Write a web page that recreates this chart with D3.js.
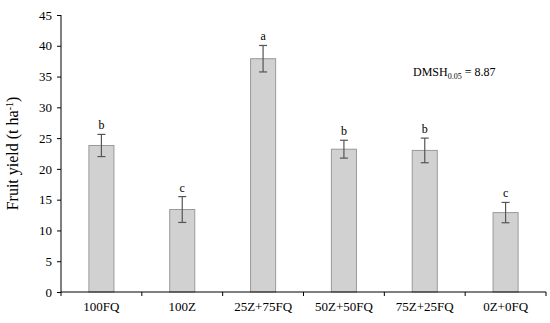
<!DOCTYPE html>
<html>
<head>
<meta charset="utf-8">
<script src="https://cdn.jsdelivr.net/npm/d3@7"></script>
<style>
  body { margin: 0; background: #fff; }
  svg text { font-family: "Times New Roman", "Liberation Serif", serif; fill: #000; }
</style>
</head>
<body>
<svg id="chart"></svg>
<script>
// Data
const treatments = ["100FQ", "100Z", "25Z+75FQ", "50Z+50FQ", "75Z+25FQ", "0Z+0FQ"];
const yieldMeans = [23.8, 13.4, 37.9, 23.2, 23.0, 12.9];
const yieldErrors = [1.8, 2.1, 2.15, 1.45, 2.0, 1.65];
const groupLetters = ["b", "c", "a", "b", "b", "c"];
const yTicks = [0, 5, 10, 15, 20, 25, 30, 35, 40, 45];

const width = 550, height = 323;
const margin = { top: 15, right: 4, bottom: 31, left: 61 };
const innerW = width - margin.left - margin.right;
const innerH = height - margin.top - margin.bottom;

const svg = d3.select('#chart')
    .attr('width', width)
    .attr('height', height);

const chart = svg.append('g')
    .attr('transform', `translate(${margin.left},${margin.top})`);

const xScale = d3.scaleBand()
    .domain(treatments)
    .range([0, innerW])
    .paddingInner(0.69)
    .paddingOuter(0.345);

const yScale = d3.scaleLinear()
    .domain([0, 45])
    .range([innerH, 0]);

// Bars
chart.selectAll('.bar')
    .data(treatments)
    .join('rect')
    .attr('class', 'bar')
    .attr('x', d => xScale(d))
    .attr('y', (d, i) => yScale(yieldMeans[i]))
    .attr('width', xScale.bandwidth())
    .attr('height', (d, i) => innerH - yScale(yieldMeans[i]))
    .attr('fill', '#d1d1d1')
    .attr('stroke', '#9a9a9a')
    .attr('stroke-width', 1);

// Error bars
const cap = 4;
const errG = chart.selectAll('.err')
    .data(treatments)
    .join('g')
    .attr('class', 'err')
    .attr('stroke', '#555')
    .attr('stroke-width', 1.2);

errG.append('line')
    .attr('x1', d => xScale(d) + xScale.bandwidth() / 2)
    .attr('x2', d => xScale(d) + xScale.bandwidth() / 2)
    .attr('y1', (d, i) => yScale(yieldMeans[i] + yieldErrors[i]))
    .attr('y2', (d, i) => yScale(yieldMeans[i] - yieldErrors[i]));

errG.append('line')
    .attr('x1', d => xScale(d) + xScale.bandwidth() / 2 - cap)
    .attr('x2', d => xScale(d) + xScale.bandwidth() / 2 + cap)
    .attr('y1', (d, i) => yScale(yieldMeans[i] + yieldErrors[i]))
    .attr('y2', (d, i) => yScale(yieldMeans[i] + yieldErrors[i]));

errG.append('line')
    .attr('x1', d => xScale(d) + xScale.bandwidth() / 2 - cap)
    .attr('x2', d => xScale(d) + xScale.bandwidth() / 2 + cap)
    .attr('y1', (d, i) => yScale(yieldMeans[i] - yieldErrors[i]))
    .attr('y2', (d, i) => yScale(yieldMeans[i] - yieldErrors[i]));

// Significance letters
chart.selectAll('.letter')
    .data(treatments)
    .join('text')
    .attr('class', 'letter')
    .attr('x', d => xScale(d) + xScale.bandwidth() / 2)
    .attr('y', (d, i) => yScale(yieldMeans[i] + yieldErrors[i]) - 5)
    .attr('text-anchor', 'middle')
    .style('font-size', '12px')
    .text((d, i) => groupLetters[i]);

// Axes
const xAxis = d3.axisBottom(xScale).tickSize(0).tickPadding(10);
const yAxis = d3.axisLeft(yScale).tickValues(yTicks).tickSize(4).tickPadding(5);

const xAxisG = chart.append('g')
    .attr('class', 'axis x-axis')
    .attr('transform', `translate(0,${innerH})`)
    .call(xAxis);
xAxisG.select('.domain').attr('stroke', '#000').attr('d', `M0,0H${innerW}`);
xAxisG.selectAll('text').style('font-size', '13px').attr('font-family', null);

// Boundary ticks between categories
const boundaries = d3.range(treatments.length + 1).map(i => i * xScale.step());
xAxisG.selectAll('.bound')
    .data(boundaries)
    .join('line')
    .attr('class', 'bound')
    .attr('x1', d => d)
    .attr('x2', d => d)
    .attr('y1', 0)
    .attr('y2', 4)
    .attr('stroke', '#000');

const yAxisG = chart.append('g')
    .attr('class', 'axis y-axis')
    .call(yAxis);
yAxisG.select('.domain').attr('stroke', '#000').attr('d', `M0,${innerH}V0`);
yAxisG.selectAll('text').style('font-size', '13px').attr('font-family', null);

// Y axis title
svg.append('text')
    .attr('transform', `translate(18,${margin.top + innerH / 2}) rotate(-90)`)
    .attr('text-anchor', 'middle')
    .style('font-size', '16px')
    .call(t => {
        t.append('tspan').text('Fruit yield (t ha');
        t.append('tspan').attr('dy', -5).style('font-size', '10px').text('-1');
        t.append('tspan').attr('dy', 5).text(')');
    });

// DMSH annotation
svg.append('text')
    .attr('x', 413)
    .attr('y', 76)
    .style('font-size', '12px')
    .call(t => {
        t.append('tspan').text('DMSH');
        t.append('tspan').attr('dy', 3).style('font-size', '8px').text('0.05');
        t.append('tspan').attr('dy', -3).text(' = 8.87');
    });
</script>
</body>
</html>
